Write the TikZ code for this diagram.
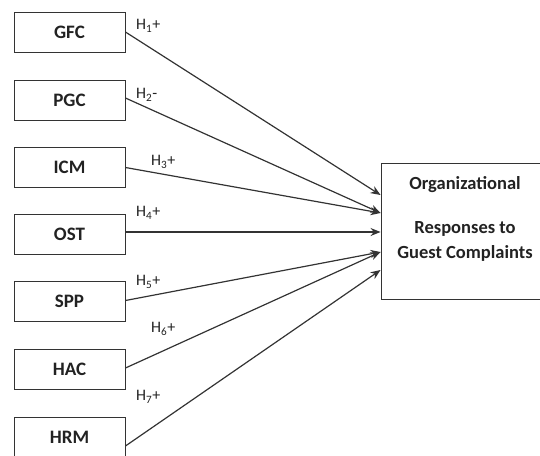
\documentclass[tikz,border=0pt]{standalone}
\usepackage{fontspec}
\setmainfont{Carlito}
\usetikzlibrary{arrows.meta}
\definecolor{ln}{HTML}{333333}
\definecolor{tx}{HTML}{222222}
\begin{document}
\begin{tikzpicture}[x=1pt,y=-1pt,
  varbox/.style={draw=ln, line width=0.9pt, fill=white, minimum width=111pt, minimum height=40pt, inner sep=0pt, text=tx, font=\fontsize{19}{22}\selectfont\bfseries},
  hyp/.style={anchor=west, inner sep=0pt, text=tx, font=\fontsize{16}{18}\selectfont},
  link/.style={draw=ln, line width=1.2pt, -{Stealth[length=10pt,width=8pt]}}]
\useasboundingbox (0,0) rectangle (540,455);
\clip (0,0) rectangle (540,455);
\node[varbox] (gfc) at (69.5,32) {GFC};
\node[varbox] (pgc) at (69.5,100) {PGC};
\node[varbox] (icm) at (69.5,167.5) {ICM};
\node[varbox] (ost) at (69.5,234) {OST};
\node[varbox] (spp) at (69.5,301.5) {SPP};
\node[varbox] (hac) at (69.5,369) {HAC};
\node[varbox] (hrm) at (69.5,437) {HRM};
\node[draw=ln, line width=0.9pt, fill=white, minimum width=164pt, minimum height=136pt, inner sep=0pt] (org) at (463,231) {};
\node[align=center, inner sep=0pt, text=tx, font=\fontsize{18.5}{25}\selectfont\bfseries] (orgtext) at (465,219) {Organizational\\[19pt]Responses to\\Guest Complaints};
\draw[link] (gfc.east) -- ([yshift=36pt]org.west);
\draw[link] ([yshift=2pt]pgc.east) -- ([yshift=18pt]org.west);
\draw[link] (icm.east) -- ([yshift=18pt]org.west);
\draw[link] ([yshift=2pt]ost.east) -- ([yshift=-1pt]org.west);
\draw[link] ([yshift=1pt]spp.east) -- ([yshift=-21pt]org.west);
\draw[link] ([yshift=1pt]hac.east) -- ([yshift=-21pt]org.west);
\draw[link] ([yshift=-9pt]hrm.east) -- ([yshift=-39pt]org.west);
\node[hyp] (h1) at (136,26) {H\textsubscript{1}+};
\node[hyp] (h2) at (136,95) {H\textsubscript{2}-};
\node[hyp] (h3) at (151,162) {H\textsubscript{3}+};
\node[hyp] (h4) at (136,213) {H\textsubscript{4}+};
\node[hyp] (h5) at (136,282) {H\textsubscript{5}+};
\node[hyp] (h6) at (151,329) {H\textsubscript{6}+};
\node[hyp] (h7) at (136,397) {H\textsubscript{7}+};
\end{tikzpicture}
\end{document}
